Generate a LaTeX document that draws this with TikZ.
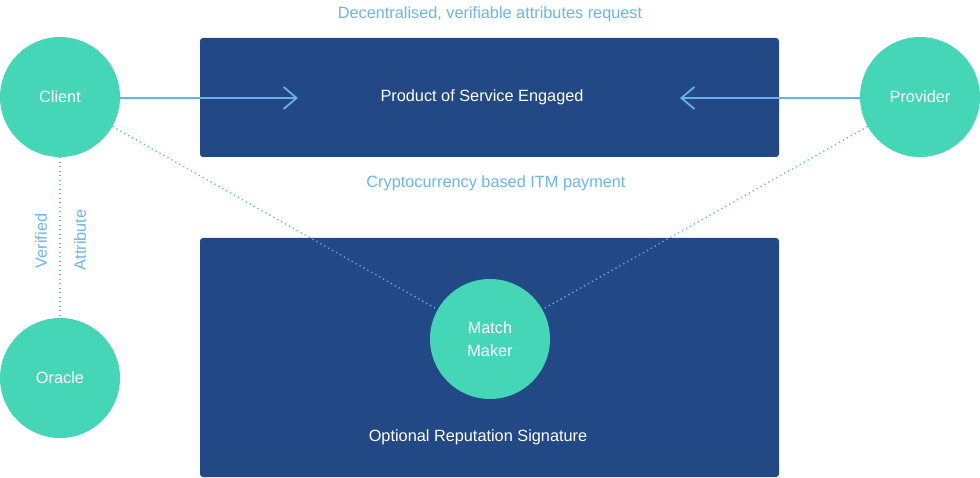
\documentclass[tikz,border=0pt]{standalone}
\usepackage{fontspec}
\setmainfont{Liberation Sans}
\usetikzlibrary{arrows.meta}
\definecolor{mint}{HTML}{44D6B6}
\definecolor{navy}{HTML}{224985}
\definecolor{sky}{HTML}{62B3E6}
\definecolor{skytext}{HTML}{6CB6E6}
\tikzset{
  actor/.style={circle, fill=mint, minimum size=120pt, inner sep=0pt, text=white, font=\fontsize{16.3}{20}\selectfont, align=center},
  panel/.style={fill=navy, rounded corners=3pt, draw=none},
  lbl/.style={text=skytext, font=\fontsize{16.3}{20}\selectfont, inner sep=0pt},
  wlbl/.style={text=white, font=\fontsize{16.3}{20}\selectfont, inner sep=0pt},
  flow/.style={draw=sky, line width=1.8pt, -{Straight Barb[length=13pt,width=22pt,line width=1.8pt]}},
  link/.style={draw=sky, line width=1.3pt, dash pattern=on 1.3pt off 3.2pt}
}
\begin{document}
\begin{tikzpicture}[x=1pt,y=-1pt]
\useasboundingbox (0,0) rectangle (980,478);
\path[panel] (200,38) rectangle (779,157);
\path[panel] (200,238) rectangle (779,477);
\node[actor] (client) at (60,97) {Client};
\node[actor] (provider) at (920,97) {Provider};
\node[actor] (oracle) at (60,378) {Oracle};
\node[actor] (match) at (490,339) {Match\\[3pt]Maker};
\coordinate (tipL) at (298,98);
\coordinate (tipR) at (680,98);
\draw[flow] (client.east |- tipL) -- (tipL);
\draw[flow] (provider.west |- tipR) -- (tipR);
\draw[link] (client) -- (match);
\draw[link] (provider) -- (match);
\draw[link] (client) -- (oracle);
\node[wlbl] (service) at (482,97.5) {Product of Service Engaged};
\node[wlbl] (reputation) at (478,437.5) {Optional Reputation Signature};
\node[lbl] (request) at (490,14.5) {Decentralised, verifiable attributes request};
\node[lbl] (payment) at (496,183) {Cryptocurrency based ITM payment};
\node[lbl, rotate=90] (verified) at (41,241) {Verified};
\node[lbl, rotate=90] (attribute) at (80,240) {Attribute};
\end{tikzpicture}
\end{document}
